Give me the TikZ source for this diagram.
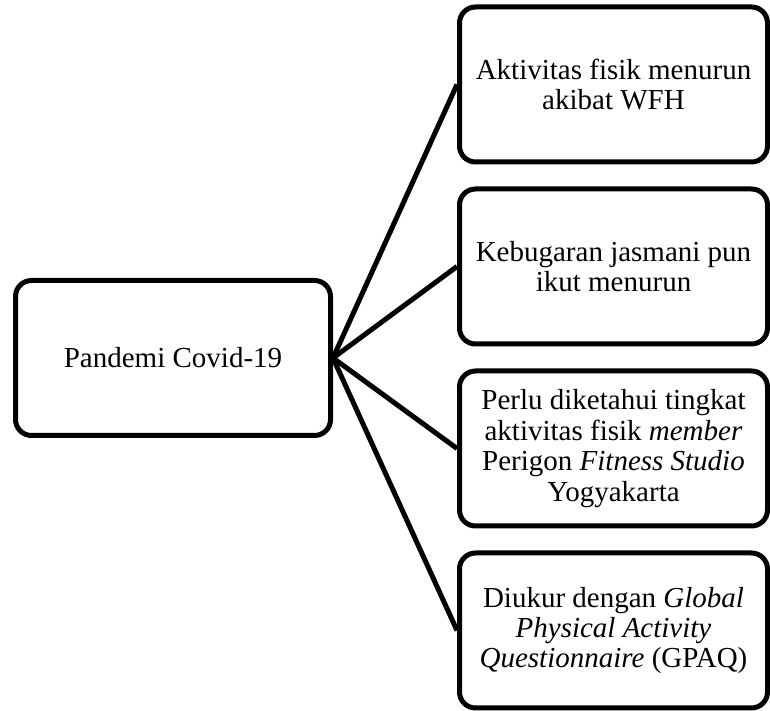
\documentclass[tikz,border=0pt]{standalone}
\usepackage{fontspec}
\setmainfont{Liberation Serif}
\usepackage{tikz}

\begin{document}
\begin{tikzpicture}[
  box/.style={draw,rounded corners=8pt,line width=2.5pt,inner sep=2pt,align=center,
    font=\fontsize{14.5}{15.2}\selectfont,minimum height=77.5pt},
  link/.style={line width=2.5pt}]
  \useasboundingbox (0,0) rectangle (385pt,355.5pt);
  \node[box,minimum width=157.5pt] (p0) at (86.5pt,176.5pt) {Pandemi Covid-19};
  \node[box,minimum width=154pt] (b1) at (306.75pt,313.25pt) {Aktivitas fisik menurun\\akibat WFH};
  \node[box,minimum width=154pt] (b2) at (306.75pt,222.25pt) {Kebugaran jasmani pun\\ikut menurun};
  \node[box,minimum width=154pt] (b3) at (306.75pt,131.25pt) {Perlu diketahui tingkat\\aktivitas fisik \textit{member}\\Perigon \textit{Fitness Studio}\\Yogyakarta};
  \node[box,minimum width=154pt] (b4) at (306.75pt,40.25pt) {Diukur dengan \textit{Global}\\\textit{Physical Activity}\\\textit{Questionnaire} (GPAQ)};
  \draw[link] (p0.east) -- (b1.west);
  \draw[link] (p0.east) -- (b2.west);
  \draw[link] (p0.east) -- (b3.west);
  \draw[link] (p0.east) -- (b4.west);
\end{tikzpicture}
\end{document}
